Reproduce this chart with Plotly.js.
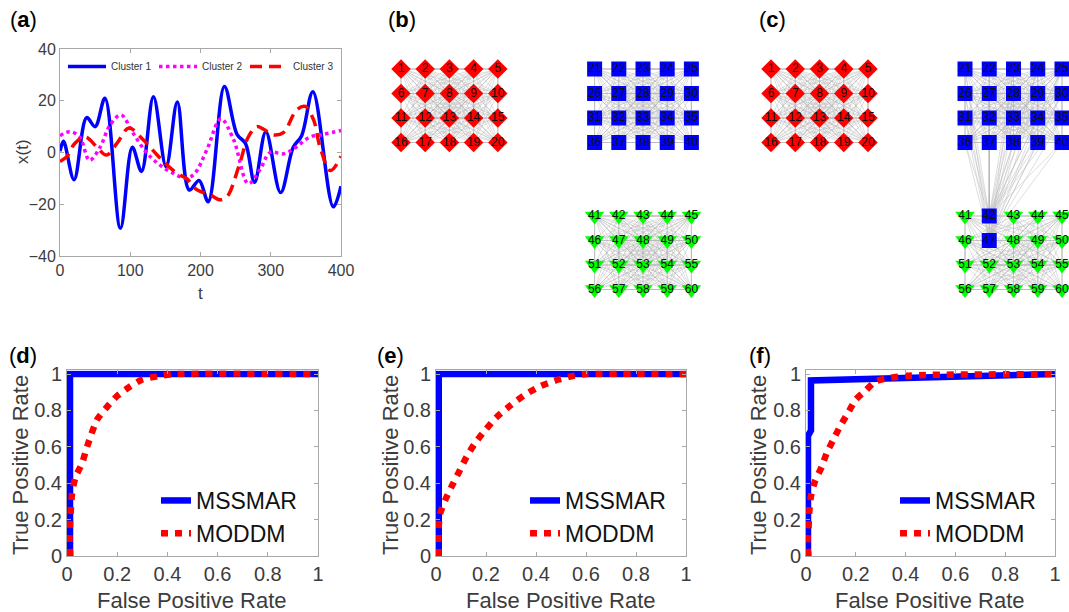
<!DOCTYPE html>
<html><head><meta charset="utf-8">
<script src="https://cdn.plot.ly/plotly-3.0.1.min.js"></script>
<style>html,body{margin:0;padding:0;background:#fff}#chart{width:1069px;height:612px}</style>
</head><body><div id="chart"></div>
<script>
// ---------- Panel (a): time series ----------
const tCluster1 = [0,5,20,38,50,64,86,103,116,133,151,167,184,198,211,234,252,264,277,293,314,332,344,360,389,400];
const xCluster1 = [0.5,4.3,-10.5,13.5,10,21,-29.3,2,-7.3,21.5,-5.5,19.5,-14.5,-10.8,-19,25.5,7,3.5,-11.5,8,-15.5,2,6.5,23.5,-21,-13];
const tCluster2 = [0,14,28,42,57,71,87,104,123,142,161,180,192,209,229,247,268,285,299,318,333,356,375,400];
const xCluster2 = [6.5,8,6,-3,2,10.5,14.5,7.5,0,-4.8,-8,-10,-8,1,13,5,-12,-6.5,0,-0.5,1.5,6,7,8.5];
const tCluster3 = [0,10,21,36,52,66,81,98,118,142,166,180,195,214,228,238,255,268,280,290,304,318,337,349,361,370,385,400];
const xCluster3 = [-3.5,-1.5,3.5,6,2.3,-1,3.5,9.5,5,-2,-8,-10,-14.4,-16.4,-18.3,-17,-5,6,10,9,6.8,7.7,16.5,17.8,12.6,2.3,-7,-1.5];
const seriesNames = ['Cluster 1','Cluster 2','Cluster 3'];

// ---------- Panels (b), (c): networks ----------
const cluster1Nodes = [1,2,3,4,5,6,7,8,9,10,11,12,13,14,15,16,17,18,19,20];
const cluster2Nodes = [21,22,23,24,25,26,27,28,29,30,31,32,33,34,35,36,37,38,39,40];
const cluster3Nodes = [41,42,43,44,45,46,47,48,49,50,51,52,53,54,55,56,57,58,59,60];
const predCluster2Nodes = [21,22,23,24,25,26,27,28,29,30,31,32,33,34,35,36,37,38,39,40,42,47];
const predCluster3Nodes = [41,43,44,45,46,48,49,50,51,52,53,54,55,56,57,58,59,60];

// ---------- Panels (d), (e), (f): ROC ----------
const methodNames = ['MSSMAR','MODDM'];
const dMssmarFpr = [0.012,0.012,1];
const dMssmarTpr = [0,1,1];
const dModdmFpr = [0.013,0.01,0.013,0.02,0.033,0.06,0.08,0.12,0.16,0.2,0.25,0.3,0.37,0.42,1];
const dModdmTpr = [0,0.09,0.2,0.34,0.43,0.51,0.6,0.75,0.82,0.88,0.93,0.97,0.99,1,1];
const eMssmarFpr = [0.011,0.011,1];
const eMssmarTpr = [0,1,1];
const eModdmFpr = [0.01,0.01,0.01,0.016,0.04,0.069,0.096,0.123,0.156,0.196,0.24,0.3,0.36,0.42,0.49,0.55,0.6,1];
const eModdmTpr = [0,0.06,0.14,0.23,0.317,0.4,0.473,0.547,0.62,0.69,0.76,0.83,0.89,0.935,0.97,0.99,1,1];
const fMssmarFpr = [0.008,0.008,0.02,0.02,1];
const fMssmarTpr = [0,0.66,0.69,0.965,1];
const fModdmFpr = [0.01,0.005,0.01,0.013,0.02,0.036,0.063,0.083,0.11,0.136,0.17,0.2,0.24,0.28,0.34,0.4,0.48,1];
const fModdmTpr = [0,0.07,0.15,0.24,0.33,0.41,0.49,0.565,0.64,0.71,0.79,0.86,0.91,0.96,0.98,0.99,0.995,1];

// ---------- layout helpers ----------
const W = 1069, H = 612;
const FONT = 'Liberation Sans, Arial, Helvetica, sans-serif';
const TXT = '#3c3c3c';
const dx = (a,b) => [a/W, b/W];
const dy = (top,bottom) => [1-bottom/H, 1-top/H];
const px = x => x/W, py = y => 1-y/H;

const axStyle = {showline:true, mirror:'ticks', linecolor:'#a8a8a8', linewidth:1, ticks:'inside', ticklen:4,
  tickcolor:'#a8a8a8', showgrid:false, zeroline:false, fixedrange:true,
  tickfont:{family:FONT, size:20, color:TXT}};
const netAx = {visible:false, showgrid:false, zeroline:false, fixedrange:true};

const traces = [];
// panel a
const aColors = ['#0000ff','#ff00ff','#ff0000'];
const aDash = ['solid','dot','12px,7px'];
[[tCluster1,xCluster1],[tCluster2,xCluster2],[tCluster3,xCluster3]].forEach((s,i)=>{
  traces.push({type:'scatter', mode:'lines', x:s[0], y:s[1], name:seriesNames[i], xaxis:'x', yaxis:'y',
    legend:'legend', line:{color:aColors[i], width:3.5, dash:aDash[i], shape:'spline', smoothing:1}, hoverinfo:'skip'});
});

// networks
const clusterOrigin = {1:[0,0], 2:[8,0], 3:[8,6]};
const clusterSymbol = {1:'diamond', 2:'square', 3:'triangle-down'};
const clusterColor = {1:'#ff0000', 2:'#0000ff', 3:'#00ff00'};
const clusterSize = {1:15, 2:15, 3:17};
const trueLists = {1:cluster1Nodes, 2:cluster2Nodes, 3:cluster3Nodes};
const pos = {};
[1,2,3].forEach(c=>{
  trueLists[c].forEach((n,i)=>{ pos[n] = [clusterOrigin[c][0] + (i%5), clusterOrigin[c][1] + Math.floor(i/5)]; });
});
function networkTraces(groups, xa, ya){
  const ex=[], ey=[];
  groups.forEach(g=>{
    const list = g.nodes;
    for(let i=0;i<list.length;i++) for(let j=i+1;j<list.length;j++){
      ex.push(pos[list[i]][0], pos[list[j]][0], null);
      ey.push(pos[list[i]][1], pos[list[j]][1], null);
    }
  });
  traces.push({type:'scatter', mode:'lines', x:ex, y:ey, xaxis:xa, yaxis:ya, showlegend:false,
    line:{color:'rgba(185,185,185,0.8)', width:0.6}, hoverinfo:'skip'});
  const nx=[], ny=[], nt=[], ns=[], nc=[], nz=[];
  groups.forEach(g=>{
    g.nodes.forEach(n=>{
      nx.push(pos[n][0]); ny.push(pos[n][1]); nt.push(String(n));
      ns.push(clusterSymbol[g.c]); nc.push(clusterColor[g.c]); nz.push(clusterSize[g.c]);
    });
  });
  traces.push({type:'scatter', mode:'markers+text', x:nx, y:ny, text:nt, textposition:'middle center',
    xaxis:xa, yaxis:ya, showlegend:false, hoverinfo:'skip',
    marker:{symbol:ns, color:nc, size:nz, opacity:1, line:{width:0}},
    textfont:{family:FONT, size:12, color:'#111'}});
}
networkTraces([{c:1,nodes:cluster1Nodes},{c:2,nodes:cluster2Nodes},{c:3,nodes:cluster3Nodes}], 'x2','y2');
networkTraces([{c:1,nodes:cluster1Nodes},{c:2,nodes:predCluster2Nodes},{c:3,nodes:predCluster3Nodes}], 'x3','y3');

// ROC
const rocSets = [
  {xa:'x4', ya:'y4', lg:'legend2', m:[dMssmarFpr,dMssmarTpr], o:[dModdmFpr,dModdmTpr]},
  {xa:'x5', ya:'y5', lg:'legend3', m:[eMssmarFpr,eMssmarTpr], o:[eModdmFpr,eModdmTpr]},
  {xa:'x6', ya:'y6', lg:'legend4', m:[fMssmarFpr,fMssmarTpr], o:[fModdmFpr,fModdmTpr]}
];
rocSets.forEach((r,k)=>{
  traces.push({type:'scatter', mode:'lines', x:r.m[0], y:r.m[1], name:methodNames[0], xaxis:r.xa, yaxis:r.ya,
    legend:r.lg, legendgroup:'m'+k, line:{color:'#0000ff', width:6.5}, hoverinfo:'skip'});
  traces.push({type:'scatter', mode:'lines', x:r.o[0], y:r.o[1], name:methodNames[1], xaxis:r.xa, yaxis:r.ya,
    legend:r.lg, legendgroup:'o'+k, line:{color:'#ff0000', width:6.5, dash:'7px,7px', shape:'spline', smoothing:0.6}, hoverinfo:'skip'});
});

const uxB = 24.2, uyN = 24.5, uxC = 24.25;
const rocY = {range:[0,1.02], dtick:0.2, tick0:0};
const rocX = {range:[0,1], dtick:0.2, tick0:0};
const legRoc = (x)=>({x:px(x), xanchor:'left', y:py(479), yanchor:'top', orientation:'v', bgcolor:'rgba(0,0,0,0)',
  font:{family:FONT, size:23, color:'#111'}, itemwidth:30, tracegroupgap:0, traceorder:'grouped'});

const ann = [];
const lab = (t,x,y)=>ann.push({text:'(<b>'+t+'</b>)', x:px(x), y:py(y), xref:'paper', yref:'paper', showarrow:false,
  font:{family:FONT, size:22, color:'#000'}, xanchor:'center', yanchor:'middle'});
lab('a',23,20); lab('b',402,20); lab('c',772,20); lab('d',23,355); lab('e',390,355); lab('f',760,355);
const title = (t,x,y,rot,size)=>ann.push({text:t, x:px(x), y:py(y), xref:'paper', yref:'paper', showarrow:false,
  textangle:rot, font:{family:FONT, size:size, color:TXT}, xanchor:'center', yanchor:'middle'});
title('x(t)',22,152,-90,17); title('t',200,293,0,17);
title('True Positive Rate',20,465,-90,22); title('False Positive Rate',192,600,0,22);
title('True Positive Rate',390,465,-90,22); title('False Positive Rate',561,600,0,22);
title('True Positive Rate',758,465,-90,22); title('False Positive Rate',930,600,0,22);

const aTick = {family:FONT, size:16, color:TXT};
const layout = {
  width:W, height:H, margin:{l:0,r:0,t:0,b:0}, paper_bgcolor:'#fff', plot_bgcolor:'rgba(0,0,0,0)',
  font:{family:FONT, color:TXT}, showlegend:true, annotations:ann,
  xaxis: Object.assign({}, axStyle, {domain:dx(60,341), range:[0,400], dtick:100, tick0:0, anchor:'y', tickfont:aTick}),
  yaxis: Object.assign({}, axStyle, {domain:dy(49,256), range:[-40,40], dtick:20, tick0:0, anchor:'x', tickfont:aTick}),
  xaxis2: Object.assign({}, netAx, {domain:dx(380,720), range:[(380-401)/uxB,(720-401)/uxB], anchor:'y2'}),
  yaxis2: Object.assign({}, netAx, {domain:dy(40,310), range:[(310-69)/uyN,(40-69)/uyN], anchor:'x2'}),
  xaxis3: Object.assign({}, netAx, {domain:dx(745,1069), range:[(745-771)/uxC,(1069-771)/uxC], anchor:'y3'}),
  yaxis3: Object.assign({}, netAx, {domain:dy(40,310), range:[(310-69)/uyN,(40-69)/uyN], anchor:'x3'}),
  xaxis4: Object.assign({}, axStyle, rocX, {domain:dx(67,318), anchor:'y4'}),
  yaxis4: Object.assign({}, axStyle, rocY, {domain:dy(370.4,556), anchor:'x4'}),
  xaxis5: Object.assign({}, axStyle, rocX, {domain:dx(436,686), anchor:'y5'}),
  yaxis5: Object.assign({}, axStyle, rocY, {domain:dy(370.4,556), anchor:'x5'}),
  xaxis6: Object.assign({}, axStyle, rocX, {domain:dx(806,1055), anchor:'y6'}),
  yaxis6: Object.assign({}, axStyle, rocY, {domain:dy(370.4,556), anchor:'x6'}),
  legend: {x:px(63), xanchor:'left', y:py(52), yanchor:'top', orientation:'h', bgcolor:'rgba(0,0,0,0)',
    font:{family:FONT, size:10, color:'#333'}, itemwidth:38, entrywidth:38, entrywidthmode:'pixels', traceorder:'normal'},
  legend2: legRoc(156),
  legend3: legRoc(525),
  legend4: legRoc(895)
};
Plotly.newPlot('chart', traces, layout, {staticPlot:true, displayModeBar:false});
</script></body></html>
